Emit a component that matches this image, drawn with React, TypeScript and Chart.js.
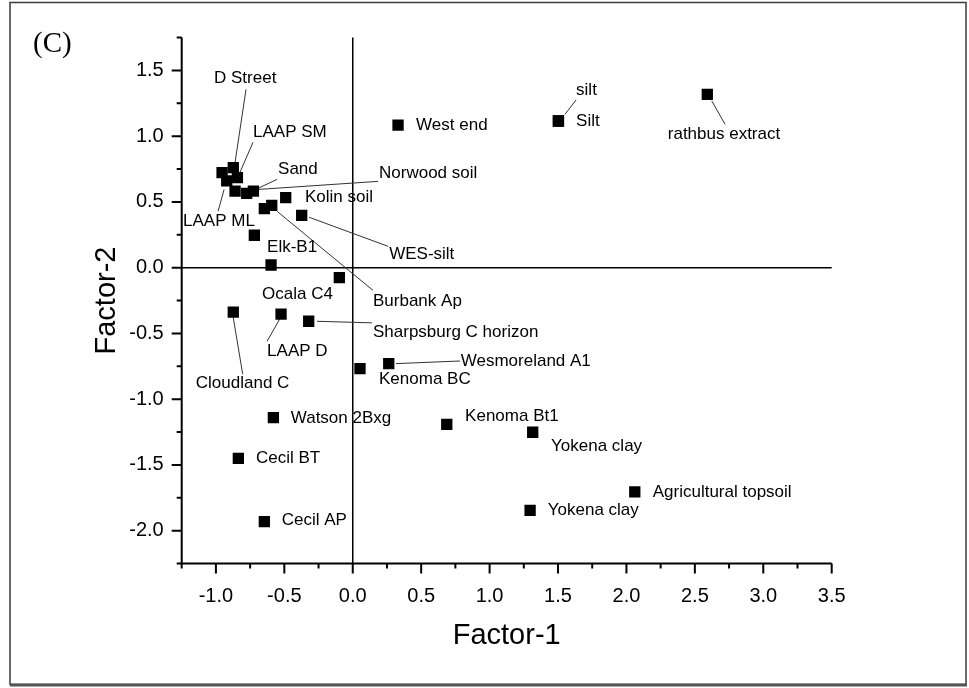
import React, { useEffect, useRef } from "react";
import { Chart, registerables } from "chart.js";

Chart.register(...registerables);

// Sample scores (Factor-1, Factor-2)
const factor1 = [
  -0.955, -0.873, -0.843, -0.921, -0.86, -0.775, -0.726, -0.49, -0.646, -0.592,
  -0.373, -0.719, -0.597, -0.098, -0.873, -0.524, -0.322, 0.053, 0.263, -0.58,
  -0.836, -0.646, 0.687, 1.315, 2.061, 1.296, 0.331, 1.503, 1.503, 2.591,
];
const factor2 = [
  0.722, 0.76, 0.684, 0.659, 0.582, 0.565, 0.582, 0.532, 0.449, 0.474,
  0.398, 0.246, 0.02, -0.076, -0.338, -0.353, -0.408, -0.768, -0.73, -1.141,
  -1.45, -1.932, -1.192, -1.252, -1.706, -1.846, 1.084, 1.115, 1.115, 1.318,
];

// Tick values
const xTicks = [-1.0, -0.5, 0.0, 0.5, 1.0, 1.5, 2.0, 2.5, 3.0, 3.5];
const xMinorTicks = [-1.25, -0.75, -0.25, 0.25, 0.75, 1.25, 1.75, 2.25, 2.75, 3.25];
const yTicks = [-2.0, -1.5, -1.0, -0.5, 0.0, 0.5, 1.0, 1.5];
const yMinorTicks = [-2.25, -1.75, -1.25, -0.75, -0.25, 0.25, 0.75, 1.25, 1.75];

// Sample labels (text, anchor in data units: left edge, vertical middle)
const labelText = [
  "D Street", "LAAP SM", "Sand", "Norwood soil", "Kolin soil", "LAAP ML", "Elk-B1",
  "WES-silt", "Burbank Ap", "Ocala C4", "Sharpsburg C horizon", "LAAP D", "Cloudland C",
  "Kenoma BC", "Wesmoreland A1", "Watson 2Bxg", "Cecil BT", "Cecil AP", "Kenoma Bt1",
  "Yokena clay", "Agricultural topsoil", "Yokena clay", "West end", "Silt", "silt",
  "rathbus extract",
];
const labelX = [
  -1.014, -0.729, -0.546, 0.192, -0.349, -1.24, -0.626,
  0.266, 0.148, -0.663, 0.148, -0.626, -1.147,
  0.192, 0.789, -0.453, -0.707, -0.519, 0.821,
  1.449, 2.192, 1.425, 0.463, 1.632, 1.632,
  2.302,
];
const labelY = [
  1.44, 1.029, 0.748, 0.717, 0.534, 0.352, 0.154,
  0.101, -0.254, -0.203, -0.492, -0.637, -0.88,
  -0.849, -0.716, -1.146, -1.45, -1.922, -1.131,
  -1.359, -1.705, -1.846, 1.082, 1.115, 1.351,
  1.01,
];

// Leader lines (data units)
const leaderX1 = [-0.78, -0.729, -0.553, 0.185, -0.984, -0.319, -0.553, -0.261, -0.531, -0.875, 0.316, 1.551, 2.624];
const leaderY1 = [1.356, 0.953, 0.671, 0.656, 0.428, 0.383, 0.428, -0.408, -0.386, -0.37, -0.73, 1.166, 1.267];
const leaderX2 = [-0.86, -0.824, -0.692, -0.685, -0.94, 0.258, 0.148, 0.141, -0.626, -0.804, 0.784, 1.632, 2.721];
const leaderY2 = [0.801, 0.725, 0.603, 0.595, 0.595, 0.162, -0.173, -0.42, -0.56, -0.811, -0.71, 1.275, 1.089];

const SANS = "'Liberation Sans', Arial, sans-serif";

const decorPlugin = {
  id: "decor",
  beforeDraw(chart: any) {
    const ctx = chart.ctx;
    ctx.save();
    ctx.fillStyle = "#ffffff";
    ctx.fillRect(0, 0, chart.width, chart.height);
    ctx.strokeStyle = "#3a3a3a";
    ctx.lineWidth = 1.5;
    ctx.strokeRect(10, 2.5, 956, 682);
    ctx.fillStyle = "#555";
    ctx.fillRect(10, 683.5, 957, 3);
    ctx.restore();
  },
  beforeDatasetsDraw(chart: any) {
    const ctx = chart.ctx;
    const xs = chart.scales.x;
    const ys = chart.scales.y;
    const { left, right, top, bottom } = chart.chartArea;
    ctx.save();
    ctx.strokeStyle = "#000";
    // zero lines
    ctx.lineWidth = 1.5;
    const x0 = xs.getPixelForValue(0);
    const y0 = ys.getPixelForValue(0);
    ctx.beginPath();
    ctx.moveTo(x0, top);
    ctx.lineTo(x0, bottom);
    ctx.moveTo(left, y0);
    ctx.lineTo(right, y0);
    ctx.stroke();
    // axes
    ctx.lineWidth = 2;
    ctx.beginPath();
    ctx.moveTo(left, top);
    ctx.lineTo(left, bottom);
    ctx.lineTo(right, bottom);
    ctx.stroke();
    // ticks
    ctx.lineWidth = 2;
    ctx.beginPath();
    xTicks.forEach((v) => {
      const p = xs.getPixelForValue(v);
      ctx.moveTo(p, bottom);
      ctx.lineTo(p, bottom + 10);
    });
    xMinorTicks.forEach((v) => {
      const p = xs.getPixelForValue(v);
      ctx.moveTo(p, bottom);
      ctx.lineTo(p, bottom + 5);
    });
    yTicks.forEach((v) => {
      const p = ys.getPixelForValue(v);
      ctx.moveTo(left, p);
      ctx.lineTo(left - 10, p);
    });
    yMinorTicks.forEach((v) => {
      const p = ys.getPixelForValue(v);
      ctx.moveTo(left, p);
      ctx.lineTo(left - 5, p);
    });
    ctx.stroke();
    // leader lines
    ctx.strokeStyle = "#333";
    ctx.lineWidth = 1;
    ctx.beginPath();
    leaderX1.forEach((_, i) => {
      ctx.moveTo(xs.getPixelForValue(leaderX1[i]), ys.getPixelForValue(leaderY1[i]));
      ctx.lineTo(xs.getPixelForValue(leaderX2[i]), ys.getPixelForValue(leaderY2[i]));
    });
    ctx.stroke();
    ctx.restore();
  },
  afterDatasetsDraw(chart: any) {
    const ctx = chart.ctx;
    const xs = chart.scales.x;
    const ys = chart.scales.y;
    const { left, right, top, bottom } = chart.chartArea;
    ctx.save();
    ctx.fillStyle = "#000";
    ctx.font = `17px ${SANS}`;
    ctx.textAlign = "left";
    ctx.textBaseline = "middle";
    labelText.forEach((t, i) => {
      ctx.fillText(t, xs.getPixelForValue(labelX[i]), ys.getPixelForValue(labelY[i]));
    });
    // axis titles
    ctx.font = `29px ${SANS}`;
    ctx.textAlign = "center";
    ctx.textBaseline = "middle";
    ctx.fillText("Factor-1", (left + right) / 2, 636);
    ctx.save();
    ctx.translate(107, (top + bottom) / 2);
    ctx.rotate(-Math.PI / 2);
    ctx.fillText("Factor-2", 0, 0);
    ctx.restore();
    // panel tag
    ctx.font = `29px 'Liberation Serif', 'Times New Roman', serif`;
    ctx.textAlign = "left";
    ctx.textBaseline = "alphabetic";
    ctx.fillText("(C)", 33, 52);
    ctx.restore();
  },
};

export default function App() {
  const ref = useRef<HTMLCanvasElement | null>(null);
  useEffect(() => {
    if (!ref.current) return;
    const chart = new Chart(ref.current, {
      type: "scatter",
      data: {
        datasets: [
          {
            data: factor1.map((x, i) => ({ x, y: factor2[i] })),
            pointStyle: "rect",
            pointRadius: 8,
            pointHoverRadius: 8,
            backgroundColor: "#000",
            borderColor: "#000",
            borderWidth: 0,
          },
        ],
      },
      options: {
        responsive: false,
        animation: false,
        events: [],
        layout: { padding: { left: 0, top: 37.5, right: 137.3, bottom: 0 } },
        plugins: { legend: { display: false }, tooltip: { enabled: false }, title: { display: false } },
        scales: {
          x: {
            type: "linear",
            min: -1.25,
            max: 3.5,
            afterBuildTicks: (s: any) => {
              s.ticks = xTicks.map((v) => ({ value: v }));
            },
            afterFit: (s: any) => {
              s.height = 124.5;
            },
            grid: { display: false, drawTicks: false },
            border: { display: false },
            ticks: {
              padding: 21,
              color: "#000",
              font: { size: 20, family: SANS },
              maxRotation: 0,
              autoSkip: false,
              callback: (v: any) => Number(v).toFixed(1),
            },
          },
          y: {
            type: "linear",
            min: -2.25,
            max: 1.75,
            afterBuildTicks: (s: any) => {
              s.ticks = yTicks.map((v) => ({ value: v }));
            },
            afterFit: (s: any) => {
              s.width = 181.7;
            },
            grid: { display: false, drawTicks: false },
            border: { display: false },
            ticks: {
              padding: 18,
              color: "#000",
              font: { size: 20, family: SANS },
              autoSkip: false,
              callback: (v: any) => Number(v).toFixed(1),
            },
          },
        },
      },
      plugins: [decorPlugin],
    });
    return () => chart.destroy();
  }, []);
  return (
    <div style={{ position: "absolute", left: 0, top: 0, width: 969, height: 688 }}>
      <canvas ref={ref} width={969} height={688} style={{ display: "block" }} />
    </div>
  );
}
